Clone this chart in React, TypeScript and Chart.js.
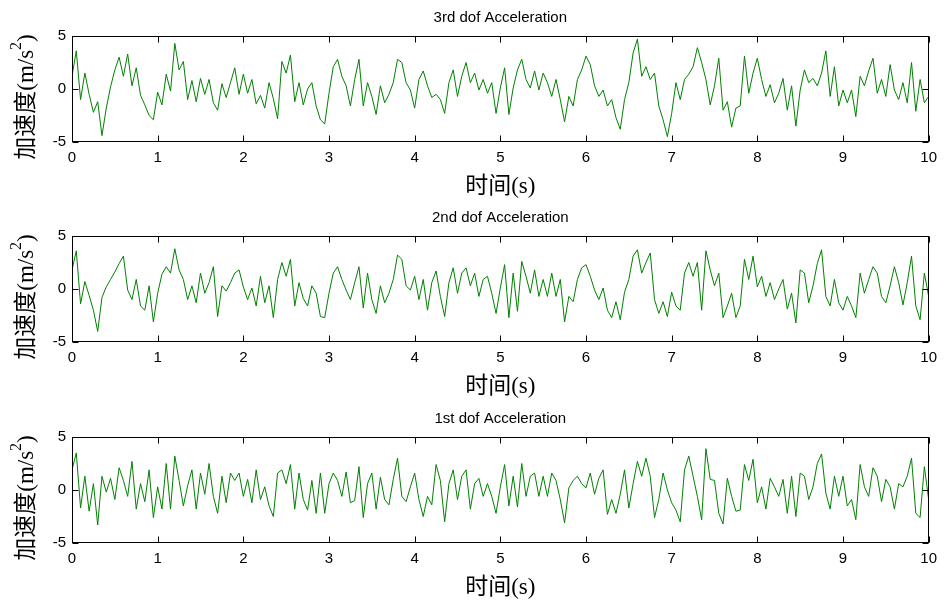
import React, { useEffect, useRef } from "react";
import { Chart, registerables } from "chart.js";

Chart.register(...registerables);

// sample interval of the recorded signals (s)
const SAMPLE_STEP = 0.05;
const X_TICKS = [0, 1, 2, 3, 4, 5, 6, 7, 8, 9, 10];
const Y_TICKS = [-5, 0, 5];
const TITLES = ["3rd dof Acceleration", "2nd dof Acceleration", "1st dof Acceleration"];
const X_LABEL = "时间(s)";
const Y_LABEL_MAIN = "加速度(m/s";
const Y_LABEL_SUP = "2";
const Y_LABEL_END = ")";

const accel3 = [
  1.2, 3.6, -1.0, 1.5, -0.5, -2.2, -1.2, -4.4, -1.8, 0.2, 1.8, 3.0, 1.2, 3.3, 0.3, 2.0, -0.6, -1.5, -2.5, -2.9,
  -0.3, -1.5, 1.4, -0.2, 4.3, 1.8, 2.6, -1.0, 0.8, -1.2, 1.0, -0.5, 0.9, -1.3, -2.0, 0.5, -0.8, 0.6, 2.0, -0.5,
  1.4, -0.4, 0.9, -1.4, -0.6, -1.8, 0.6, -0.9, -2.8, 2.6, 1.5, 3.2, -1.2, 0.6, -1.5, 0.0, 0.6, -1.6, -2.9, -3.3,
  -0.4, 2.1, 2.8, 1.2, 0.3, -1.6, 0.9, 2.8, -1.6, 0.6, -0.7, -2.4, 0.3, -1.3, -0.5, 0.6, 2.8, 2.5, 0.6, -0.1,
  -1.8, 0.9, 1.7, 0.3, -0.8, -0.5, -1.0, -2.3, 0.6, 1.8, -0.7, 1.2, 2.5, 0.6, 1.5, -0.1, 0.9, -0.4, 0.6, -2.3,
  0.1, 2.0, -2.4, 0.1, 1.8, 2.8, 0.9, 0.1, 1.7, -0.1, 1.5, 0.6, -0.7, 0.9, -1.0, -3.1, -0.7, -1.6, 0.9, 1.8,
  3.1, 2.3, 0.3, -0.7, -0.1, -1.6, -1.0, -2.7, -3.8, -1.0, 0.6, 3.4, 4.7, 1.2, 2.1, 0.9, 1.5, -1.6, -2.9, -4.5,
  -2.3, 0.6, -1.0, 0.9, 1.4, 2.1, 3.9, 2.5, 0.9, -1.5, 0.3, 2.9, -2.0, -1.2, -3.6, -1.8, -1.6, 3.1, -0.4, 1.5,
  2.9, 0.9, -0.7, 0.4, -1.3, -0.4, 1.0, -2.0, 0.3, -3.5, -0.1, 1.8, 0.6, 1.0, 0.3, 1.5, 3.6, -0.7, 2.1, -1.6,
  -0.1, -1.3, -0.1, -2.6, 1.2, 0.3, 1.7, 2.9, -0.4, 0.9, -0.7, 2.3, -0.1, -1.0, 0.6, -1.3, 2.5, -2.1, 0.9, -1.3,
  -0.7,
];

const accel2 = [
  1.8, 3.6, -1.4, 0.7, -0.6, -2.0, -4.0, -0.8, 0.2, 0.9, 1.6, 2.4, 3.1, -0.1, -1.0, 0.9, -1.6, -2.0, 0.3, -3.1,
  -0.4, 1.4, 2.1, 1.5, 3.8, 1.8, 0.9, -1.0, 0.3, -1.3, 1.5, -0.4, 0.6, 2.1, -2.6, 0.3, -0.2, 0.6, 1.5, 1.8,
  0.2, -1.0, 0.1, -1.6, 1.2, -1.3, 0.3, -2.7, 0.9, 2.5, 1.2, 2.8, -1.6, 0.6, -0.9, -1.6, 0.3, -0.4, -2.6, -2.7,
  -0.4, 1.5, 2.1, 0.9, -0.1, -1.0, 0.6, 2.1, -1.8, 1.5, -1.0, -2.3, 0.3, -1.3, -0.4, 0.9, 3.2, 2.8, 0.3, -0.1,
  1.2, -1.0, 0.9, -2.0, 0.6, 1.7, -0.7, -2.6, 0.6, 2.0, -0.4, 1.5, 2.0, 0.3, 1.5, -0.7, 0.9, 1.2, -0.4, -2.3,
  0.1, 2.3, -2.7, 1.5, -2.1, 2.6, 1.2, -0.4, 1.8, -0.7, 0.9, -0.7, 1.5, -0.7, 0.9, -3.1, -0.7, -1.2, 0.9, 2.0,
  2.3, 1.2, -0.1, -1.0, 0.1, -2.0, -2.7, -1.2, -2.9, -0.3, 0.9, 3.1, 3.7, 1.5, 2.5, 3.4, -1.0, -2.3, -1.2, -2.6,
  -0.3, -1.6, -2.0, 1.5, 2.5, 1.2, 2.5, -2.0, 3.6, 1.8, 0.3, 1.5, -2.7, -1.6, -0.4, -2.7, -1.6, 2.8, 0.9, 3.1,
  0.2, 1.2, -0.7, 0.6, -1.0, 0.0, 0.9, -1.9, -0.4, -3.2, 1.8, 1.5, -1.3, 0.3, 2.4, 3.7, -0.7, -1.6, 0.9, -1.3,
  -2.0, -0.7, -1.6, -2.7, 1.5, -0.4, 0.9, 2.1, 1.5, -0.7, -1.3, 0.3, 2.1, 0.6, -1.5, 0.6, 3.1, -1.6, -2.9, 1.5,
  -0.7,
];

const accel1 = [
  1.9, 3.5, -1.7, 1.3, -2.0, 0.6, -3.3, 1.3, -0.2, 1.1, -0.9, 2.1, 0.9, -0.6, 2.7, -1.8, 0.6, -1.1, 1.9, -2.6,
  0.3, -1.8, 2.5, -1.8, 3.2, 0.9, -1.5, 0.4, 1.9, -1.8, 1.6, -0.4, 2.5, -0.6, -2.2, 1.3, -1.2, 1.6, 0.9, 1.6,
  -0.6, 1.0, -1.2, 1.9, -0.9, 0.3, -1.5, -2.5, 1.6, 1.9, 0.6, 2.4, -1.8, 1.6, -0.9, -1.9, 0.9, -2.2, 1.6, -2.2,
  0.6, 1.6, 0.9, -0.6, 1.7, -1.2, -1.0, 2.2, -2.6, 0.6, 1.6, -1.8, 1.2, -0.9, -1.4, 1.0, 3.0, -0.6, -1.1, 0.3,
  1.6, -0.9, -2.5, -0.6, -1.4, 2.4, 0.9, -3.0, 0.6, 1.9, -0.9, 1.3, 1.9, -1.8, 0.6, 1.1, -0.6, 0.6, -0.6, -2.2,
  0.3, 2.4, -1.5, 1.3, -1.6, 2.5, -0.6, 1.3, 1.6, -0.6, 1.3, -0.6, 1.6, 0.9, -0.9, -3.1, 0.2, 0.9, 1.3, 0.6,
  0.2, 1.6, -0.4, 1.1, 1.9, -2.3, -0.9, -2.2, -0.4, 1.9, -1.7, 0.6, 2.7, 1.3, 3.0, 1.3, -2.6, -0.9, 1.6, 0.0,
  -1.2, -1.9, -3.0, 1.9, 3.2, 1.3, -0.6, -2.8, 3.9, 1.0, 0.9, -2.2, -3.2, 1.1, -0.6, -2.0, -1.9, 2.4, 0.9, 2.9,
  -1.2, 0.3, -1.8, 1.1, 0.3, -0.6, 1.0, -2.2, 1.3, -2.5, 1.6, 1.3, -0.9, 0.3, 2.5, 3.4, -0.3, -1.8, 1.3, -0.6,
  1.3, -1.5, -0.9, -2.8, 2.4, 0.3, -0.6, 2.1, 1.3, -1.1, 1.0, 0.3, -1.8, 0.6, 0.3, 1.3, 3.0, -2.2, -2.6, 2.2,
  -0.9,
];

const SERIES = [accel3, accel2, accel1];

const TICK_FONT = { family: "'Liberation Sans', Arial, sans-serif", size: 15 };
const LABEL_FONT_FAMILY = "'Liberation Serif', 'Noto Sans CJK SC', serif";

function makeDecor(title: string) {
  return {
    id: "decor",
    afterDraw(chart: any) {
      const { ctx, chartArea: a, scales } = chart;
      const xs = scales.x;
      const ys = scales.y;
      ctx.save();
      ctx.strokeStyle = "#000";
      ctx.lineWidth = 1;
      const L = Math.round(a.left) + 0.5;
      const R = Math.round(a.right) - 0.5;
      const T = Math.round(a.top) + 0.5;
      const B = Math.round(a.bottom) - 0.5;
      ctx.strokeRect(L, T, R - L, B - T);
      ctx.beginPath();
      X_TICKS.forEach((v) => {
        const px = Math.round(xs.getPixelForValue(v)) + 0.5;
        ctx.moveTo(px, B);
        ctx.lineTo(px, B - 6);
        ctx.moveTo(px, T);
        ctx.lineTo(px, T + 6);
      });
      Y_TICKS.forEach((v) => {
        const py = Math.round(ys.getPixelForValue(v)) + 0.5;
        ctx.moveTo(L, py);
        ctx.lineTo(L + 6, py);
        ctx.moveTo(R, py);
        ctx.lineTo(R - 6, py);
      });
      ctx.stroke();

      ctx.fillStyle = "#000";
      // title
      ctx.font = "15px 'Liberation Sans', Arial, sans-serif";
      ctx.textAlign = "center";
      ctx.textBaseline = "alphabetic";
      ctx.fillText(title, (a.left + a.right) / 2, a.top - 14);

      // x label
      ctx.font = `23px ${LABEL_FONT_FAMILY}`;
      ctx.textBaseline = "middle";
      ctx.fillText(X_LABEL, (a.left + a.right) / 2, a.bottom + 45);

      // y label (rotated, with superscript)
      const mainFont = `23px ${LABEL_FONT_FAMILY}`;
      const supFont = `16px ${LABEL_FONT_FAMILY}`;
      ctx.font = mainFont;
      const w1 = ctx.measureText(Y_LABEL_MAIN).width;
      const w3 = ctx.measureText(Y_LABEL_END).width;
      ctx.font = supFont;
      const w2 = ctx.measureText(Y_LABEL_SUP).width;
      const total = w1 + w2 + w3;
      const cy = (a.top + a.bottom) / 2 + 8;
      ctx.translate(27, cy);
      ctx.rotate(-Math.PI / 2);
      ctx.textAlign = "left";
      ctx.textBaseline = "middle";
      let x0 = -total / 2;
      ctx.font = mainFont;
      ctx.fillText(Y_LABEL_MAIN, x0, 0);
      x0 += w1;
      ctx.font = supFont;
      ctx.fillText(Y_LABEL_SUP, x0, -10);
      x0 += w2;
      ctx.font = mainFont;
      ctx.fillText(Y_LABEL_END, x0, 0);
      ctx.restore();
    },
  };
}

function Panel({ title, values, top }: { title: string; values: number[]; top: number }) {
  const ref = useRef<HTMLCanvasElement | null>(null);
  useEffect(() => {
    if (!ref.current) return;
    const points = values.map((v, i) => ({ x: i * SAMPLE_STEP, y: v }));
    const chart = new Chart(ref.current, {
      type: "line",
      data: {
        datasets: [
          {
            data: points,
            borderColor: "#008000",
            borderWidth: 1,
            pointRadius: 0,
            tension: 0,
            fill: false,
          },
        ],
      },
      options: {
        responsive: false,
        animation: false,
        events: [],
        layout: { padding: { top: 36, right: 14, left: 0, bottom: 0 } },
        plugins: { legend: { display: false }, title: { display: false }, tooltip: { enabled: false } },
        scales: {
          x: {
            type: "linear",
            min: 0,
            max: 10,
            afterFit: (s: any) => {
              s.height = 58;
            },
            afterBuildTicks: (s: any) => {
              s.ticks = X_TICKS.map((v) => ({ value: v }));
            },
            ticks: { font: TICK_FONT, color: "#000", padding: 7, maxRotation: 0, autoSkip: false },
            grid: { display: false, drawTicks: false },
            border: { display: false },
          },
          y: {
            type: "linear",
            min: -5,
            max: 5,
            afterFit: (s: any) => {
              s.width = 72;
            },
            afterBuildTicks: (s: any) => {
              s.ticks = Y_TICKS.map((v) => ({ value: v }));
            },
            ticks: { font: TICK_FONT, color: "#000", padding: 6 },
            grid: { display: false, drawTicks: false },
            border: { display: false },
          },
        },
      },
      plugins: [makeDecor(title)],
    });
    return () => chart.destroy();
  }, [title, values]);
  return (
    <canvas
      ref={ref}
      width={944}
      height={200}
      style={{ position: "absolute", left: 0, top, width: 944, height: 200, display: "block" }}
    />
  );
}

export default function App() {
  const tops = [0, 200, 401];
  return (
    <div style={{ position: "absolute", left: 0, top: 0, width: 944, height: 605, background: "#fff" }}>
      {SERIES.map((vals, i) => (
        <Panel key={i} title={TITLES[i]} values={vals} top={tops[i]} />
      ))}
    </div>
  );
}
